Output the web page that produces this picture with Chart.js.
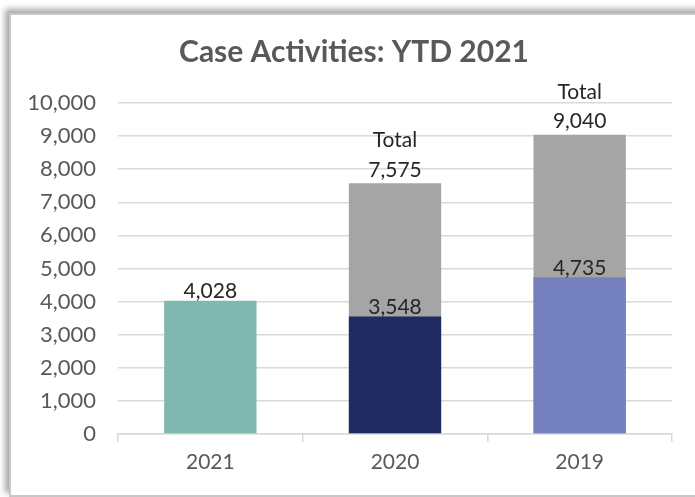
<!DOCTYPE html>
<html><head><meta charset="utf-8">
<script src="https://cdn.jsdelivr.net/npm/chart.js@4/dist/chart.umd.min.js"></script>
<style>
html,body{margin:0;padding:0;background:#fff;width:695px;height:497px;overflow:hidden;}
#panel{position:absolute;left:9px;top:13px;width:720px;height:480px;border:2px solid #c8c8c8;box-shadow:-4px -4px 6px rgba(0,0,0,0.35);background:#fff;}
#wrap{position:absolute;left:0;top:0;width:695px;height:497px;}
</style></head><body>
<div id="panel"></div>
<div id="wrap"><canvas id="c" width="695" height="497"></canvas></div>
<script>
const categories = ['2021', '2020', '2019'];
const ytdValues = [4028, 3548, 4735];
const totalValues = [null, 7575, 9040];
const ytdColors = ['#7fb8b1', '#212b63', '#7580be'];
const totalColor = '#a5a5a5';
const FONT = 'Lato, "Open Sans", sans-serif';

const labelPlugin = {
  id: 'barLabels',
  afterLayout(chart) {
    const t = chart.titleBlock;
    if (t) { t.left = 36; t.width = t.right - t.left; }
  },
  afterDatasetsDraw(chart) {
    const ctx = chart.ctx;
    ctx.save();
    ctx.font = '21px ' + FONT;
    ctx.fillStyle = '#262626';
    ctx.textAlign = 'center';
    ctx.textBaseline = 'alphabetic';
    const fmt = v => v.toLocaleString('en-US');
    chart.getDatasetMeta(0).data.forEach((bar, i) => {
      const v = ytdValues[i];
      ctx.fillText(fmt(v), bar.x, bar.y - 2.5);
    });
    chart.getDatasetMeta(1).data.forEach((bar, i) => {
      const v = totalValues[i];
      if (v == null) return;
      ctx.fillText(fmt(v), bar.x, bar.y - 6.5);
      ctx.fillText('Total', bar.x, bar.y - 36);
    });
    ctx.restore();
  }
};

new Chart(document.getElementById('c'), {
  type: 'bar',
  data: {
    labels: categories,
    datasets: [
      { label: 'YTD', data: ytdValues, backgroundColor: ytdColors, order: 1,
        categoryPercentage: 0.5, barPercentage: 1 },
      { label: 'Total', data: totalValues, backgroundColor: totalColor, order: 2,
        categoryPercentage: 0.5, barPercentage: 1 }
    ]
  },
  options: {
    responsive: false,
    animation: false,
    devicePixelRatio: 1,
    layout: { padding: { left: 0, right: 23, top: 0, bottom: 0 } },
    plugins: {
      legend: { display: false },
      tooltip: { enabled: false },
      title: {
        display: true,
        text: 'Case Activities: YTD 2021',
        color: '#595959',
        font: { family: FONT, size: 30, weight: 'bold' },
        padding: { top: 34, bottom: 33 }
      }
    },
    scales: {
      x: {
        stacked: true,
        offset: true,
        afterFit(s) { s.height = 63; },
        grid: { display: true, drawOnChartArea: false, drawTicks: true, tickLength: 8, color: '#d9d9d9', lineWidth: 1.5, offset: true },
        border: { display: true, color: '#d9d9d9', width: 1.5 },
        ticks: { color: '#595959', font: { family: FONT, size: 21 }, padding: 8 }
      },
      y: {
        stacked: false,
        min: 0, max: 10000,
        afterFit(s) { s.width = 118; },
        ticks: { stepSize: 1000, color: '#595959', font: { family: FONT, size: 22 }, padding: 22,
          callback: v => v.toLocaleString('en-US') },
        grid: { color: '#d9d9d9', lineWidth: 1.5, drawTicks: false },
        border: { display: false }
      }
    }
  },
  plugins: [labelPlugin]
});
</script>
</body></html>
